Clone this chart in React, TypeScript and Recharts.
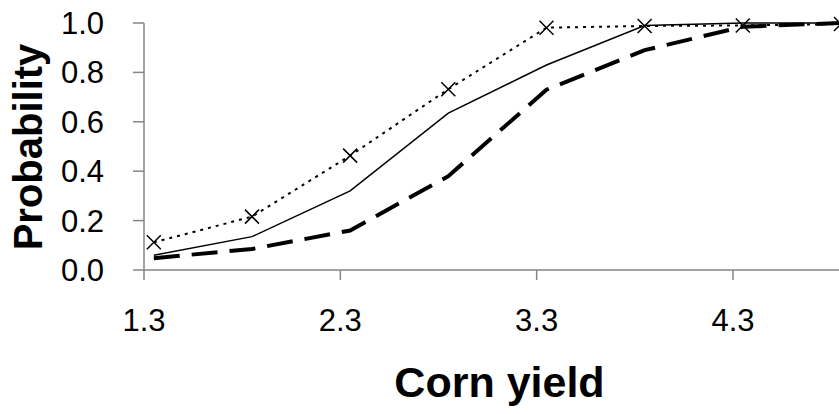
import React from 'react';
import { LineChart, Line, XAxis, YAxis } from 'recharts';

// corn yield values where each curve was sampled
const yieldLevels = [1.35, 1.85, 2.35, 2.85, 3.35, 3.85, 4.35, 4.85];

// cumulative probability curves
const solidProb = [0.06, 0.135, 0.32, 0.635, 0.83, 0.99, 1.0, 1.0];
const dashedProb = [0.048, 0.085, 0.16, 0.38, 0.73, 0.89, 0.985, 1.0];
const crossProb = [0.112, 0.216, 0.463, 0.732, 0.981, 0.988, 0.99, 0.996];

const xTicks = [1.3, 2.3, 3.3, 4.3];
const yTicks = [0, 0.2, 0.4, 0.6, 0.8, 1.0];

const data = yieldLevels.map((x, i) => ({
  x,
  solid: solidProb[i],
  dashed: dashedProb[i],
  cross: crossProb[i],
}));

const FONT = '"Liberation Sans", Arial, sans-serif';
const AXIS = '#868686';
const TICK_FONT = 31;

// little "x" marker like the Excel one
const CrossDot = (props: any) => {
  const { cx, cy, index } = props;
  if (cx == null || cy == null) return <g key={index} />;
  const r = 7;
  return (
    <path
      key={`cross-${index}`}
      d={`M${cx - r},${cy - r}L${cx + r},${cy + r}M${cx - r},${cy + r}L${cx + r},${cy - r}`}
      stroke="#000"
      strokeWidth={1.5}
      fill="none"
    />
  );
};

// tick labels drawn by hand so the size sticks
const XTick = (props: any) => {
  const { x, y, payload } = props;
  return (
    <text x={x} y={y + 24} textAnchor="middle" fontFamily={FONT} fontSize={TICK_FONT} fill="#000">
      {Number(payload.value).toFixed(1)}
    </text>
  );
};

const YTick = (props: any) => {
  const { x, y, payload } = props;
  return (
    <text x={x} y={y + 11} textAnchor="end" fontFamily={FONT} fontSize={TICK_FONT} fill="#000">
      {Number(payload.value).toFixed(1)}
    </text>
  );
};

const XTitle = (props: any) => {
  const vb = props.viewBox || { x: 144, y: 270, width: 695, height: 144 };
  return (
    <text
      x={vb.x + vb.width / 2 + 8}
      y={397}
      textAnchor="middle"
      fontFamily={FONT}
      fontWeight="bold"
      fontSize={43}
      fill="#000"
    >
      Corn yield
    </text>
  );
};

const YTitle = () => (
  <text
    x={42}
    y={147}
    transform="rotate(-90, 42, 147)"
    textAnchor="middle"
    fontFamily={FONT}
    fontWeight="bold"
    fontSize={40}
    fill="#000"
  >
    Probability
  </text>
);

export default function App() {
  return (
    <div style={{ position: 'absolute', left: 0, top: 0, width: 839, height: 414, background: '#fff', overflow: 'hidden' }}>
      <LineChart width={839} height={414} data={data} margin={{ top: 23, right: 0, bottom: 0, left: 0 }}>
        <XAxis
          dataKey="x"
          type="number"
          domain={[1.3, 4.84]}
          allowDataOverflow
          ticks={xTicks}
          height={144}
          stroke={AXIS}
          strokeWidth={1.5}
          tickSize={10}
          tickMargin={27}
          tick={<XTick />}
          label={<XTitle />}
        />
        <YAxis
          type="number"
          domain={[0, 1]}
          ticks={yTicks}
          width={144}
          stroke={AXIS}
          strokeWidth={1.5}
          tickSize={11}
          tickMargin={29}
          tick={<YTick />}
          label={<YTitle />}
        />
        <Line
          dataKey="dashed"
          type="linear"
          stroke="#000"
          strokeWidth={4}
          strokeDasharray="26 12"
          dot={false}
          isAnimationActive={false}
        />
        <Line
          dataKey="solid"
          type="linear"
          stroke="#000"
          strokeWidth={1.5}
          dot={false}
          isAnimationActive={false}
        />
        <Line
          dataKey="cross"
          type="linear"
          stroke="#000"
          strokeWidth={2}
          strokeDasharray="3 5"
          dot={CrossDot}
          isAnimationActive={false}
        />
      </LineChart>
    </div>
  );
}
